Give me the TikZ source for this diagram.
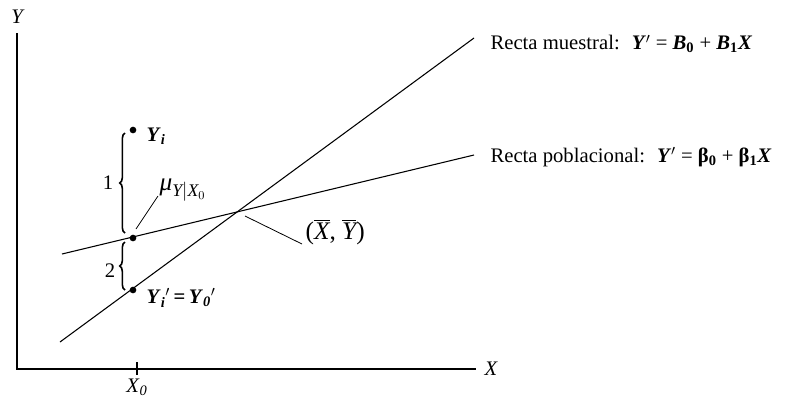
\documentclass[tikz,border=0pt]{standalone}
\usepackage{amsmath}
\usepackage{fontspec}
\setmainfont{Liberation Serif}
\usepackage{tikz}
\usetikzlibrary{decorations.pathreplacing}
\tikzset{
  axis/.style={line width=2.2pt, draw=black},
  rline/.style={line width=0.8pt, draw=black},
  lead/.style={line width=0.6pt, draw=black},
  dot/.style={circle, fill=black, inner sep=0pt, minimum size=5pt},
  lbl/.style={inner sep=1pt, font=\fontsize{15.5}{18}\selectfont},
  big/.style={inner sep=1pt, font=\fontsize{19}{22}\selectfont},
  brc/.style={decorate, decoration={brace, amplitude=4pt}, line width=1.2pt},
}
\newcommand{\bi}[1]{\textbf{\textit{#1}}}

\begin{document}
\begin{tikzpicture}[x=0.75pt, y=-0.75pt]
  \useasboundingbox (0,0) rectangle (788,405);

  % axes
  \coordinate (ytop) at (17,33);
  \coordinate (xend) at (476,369);
  \coordinate (tka) at (137,362);
  \coordinate (tkb) at (137,375);
  \draw[axis] (ytop) |- (xend);
  \draw[line width=1.5pt] (tka) -- (tkb);
  \node[lbl] (ylab) at (18,17) {\textit{Y}};
  \node[lbl, anchor=west] (xlab) at (483,369) {\textit{X}};
  \node[lbl] (x0) at (137,387) {\textit{X}\textsubscript{\textit{0}}};

  % lines
  \coordinate (s1) at (60,342);
  \coordinate (s2) at (474,38);
  \coordinate (p1) at (62,254);
  \coordinate (p2) at (474,155);
  \draw[rline] (s1) -- (s2);
  \draw[rline] (p1) -- (p2);
  \coordinate (xy) at (243,212);

  % points
  \node[dot] (yi)  at (133,130) {};
  \node[dot] (mu)  at (133,238) {};
  \node[dot] (yip) at (133,290) {};

  % braces
  \draw[brc] (125,233) -- (125,133);
  \draw[brc] (125,290) -- (125,242);
  \node[lbl] (one) at (108,183) {1};
  \node[lbl] (two) at (110,271) {2};

  % labels
  \node[lbl, anchor=west] (yil) at (145,136) {\bi{Y}\textsubscript{\bi{i}}};
  \node[lbl, anchor=west] (yipl) at (145,298)
    {\bi{Y}\textsubscript{\bi{i}}$'$\,\textbf{=}\,\bi{Y}\textsubscript{\bi{0}}$'$};
  \node[big, anchor=west] (mul) at (158,190)
    {$\textit{μ}_{\textit{Y}|\textit{X}_0}$};
  \node[big, anchor=west] (xyl) at (304,232)
    {($\overline{\textit{X}}$, $\overline{\textit{Y}}$)};
  \coordinate (mua) at (136,229);
  \coordinate (mub) at (158,196);
  \coordinate (xya) at (245,216);
  \coordinate (xyb) at (302,244);
  \draw[lead] (mua) -- (mub);
  \draw[lead] (xya) -- (xyb);

  \node[lbl, anchor=west] (smp) at (489,44)
    {Recta muestral: \ \bi{Y}$'$ = \bi{B}\textsubscript{\textbf{0}} + \bi{B}\textsubscript{\textbf{1}}\bi{X}};
  \node[lbl, anchor=west] (pob) at (489,157)
    {Recta poblacional: \ \bi{Y}$'$ = \textbf{β}\textsubscript{\textbf{0}} + \textbf{β}\textsubscript{\textbf{1}}\bi{X}};
\end{tikzpicture}
\end{document}
